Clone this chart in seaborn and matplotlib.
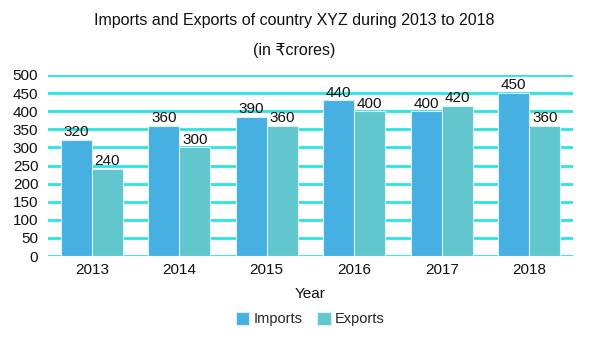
import matplotlib
matplotlib.use("Agg")
import matplotlib.pyplot as plt
import seaborn as sns
import pandas as pd

years = ["2013", "2014", "2015", "2016", "2017", "2018"]
imports = [320, 360, 385, 430, 400, 450]
exports = [240, 300, 360, 400, 415, 360]
import_labels = ["320", "360", "390", "440", "400", "450"]
export_labels = ["240", "300", "360", "400", "420", "360"]
yticks = [0, 50, 100, 150, 200, 250, 300, 350, 400, 450, 500]

df = pd.DataFrame({
    "Year": years * 2,
    "Value": imports + exports,
    "Type": ["Imports"] * len(years) + ["Exports"] * len(years),
})

sns.set_theme(style="white")
plt.rcParams["font.family"] = ["Liberation Sans", "DejaVu Sans"]

fig = plt.figure(figsize=(5.89, 3.43), dpi=100)
ax = fig.add_axes([48 / 589, 1 - 256 / 343, 525 / 589, 181 / 343])

sns.barplot(data=df, x="Year", y="Value", hue="Type", ax=ax,
            palette=["#46B0E2", "#62C6CE"], width=0.71, saturation=1,
            edgecolor="#D8F2F8", linewidth=0.8, zorder=3)

ax.set_ylim(0, 500)
ax.set_yticks(yticks)
ax.set_xlim(-0.5, 5.5)
ax.grid(axis="y", color="#2AE5E5", linewidth=2.0, zorder=0)
ax.set_axisbelow(True)
for s in ax.spines.values():
    s.set_visible(False)
ax.tick_params(axis="both", length=0, labelsize=11, colors="#111111")
ax.tick_params(axis="y", pad=7)
ax.tick_params(axis="x", pad=5)
ax.set_ylabel("")
ax.set_xlabel("Year", fontsize=11, labelpad=7, color="#111111")

for cont, labs in zip(ax.containers, [import_labels, export_labels]):
    ax.bar_label(cont, labels=labs, padding=0.5, fontsize=11, color="#111111")

ax.legend(loc="upper center", bbox_to_anchor=(0.5, -0.235), ncol=2, frameon=False,
          fontsize=10.5, handlelength=0.9, handleheight=1.0, handletextpad=0.3,
          columnspacing=1.0)

fig.text(0.5, 1 - 20 / 343, "Imports and Exports of country XYZ during 2013 to 2018",
         ha="center", va="center", fontsize=11.5, color="#111111")
fig.text(0.5, 1 - 50 / 343, "(in ₹crores)", ha="center", va="center",
         fontsize=11.5, color="#111111")

fig.savefig("out.png", dpi=100)
